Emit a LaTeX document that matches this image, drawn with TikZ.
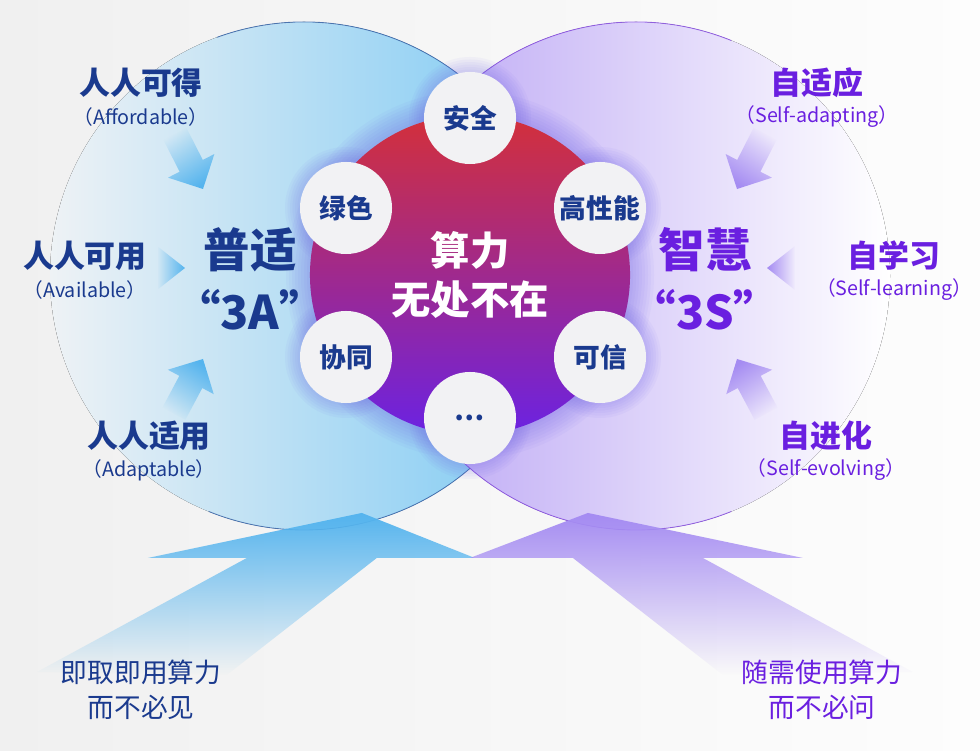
\documentclass[tikz,border=0pt]{standalone}
\usepackage{fontspec}
\setmainfont{Noto Sans CJK SC}
\usetikzlibrary{fadings,positioning}

\definecolor{navy}{HTML}{1A3A8E}
\definecolor{violettext}{HTML}{6A1FE0}
\definecolor{bgleft}{HTML}{F0F0F0}
\definecolor{bgright}{HTML}{FDFDFD}
\definecolor{skyleft}{HTML}{EEF2F5}
\definecolor{skyright}{HTML}{7CC9F3}
\definecolor{lilacleft}{HTML}{B9A3F4}
\definecolor{skyarrow}{HTML}{55B4EE}
\definecolor{lilacarrow}{HTML}{A58CF2}
\definecolor{coreRed}{HTML}{D3303A}
\definecolor{coreMag}{HTML}{B02A8E}
\definecolor{corePurple}{HTML}{6B22E2}
\definecolor{bubblefill}{HTML}{F2F2F4}
\definecolor{halo}{HTML}{6F63E8}

\tikzfading[name=tailfade, left color=transparent!100, middle color=transparent!35, right color=transparent!0]
\tikzfading[name=fadedown, top color=transparent!0, middle color=transparent!25, bottom color=transparent!100]

\begin{document}
\begin{tikzpicture}[x=0.025cm, y=0.025cm, node distance=0.85cm]
    \tikzstyle{title} = [font=\bfseries\fontsize{22}{26}\selectfont, inner sep=0pt]
    \tikzstyle{subtitle} = [font=\fontsize{14}{16}\selectfont, inner sep=0pt]
    \tikzstyle{big} = [font=\bfseries\fontsize{33}{40}\selectfont, inner sep=0pt]
    \tikzstyle{bubble} = [circle, fill=bubblefill, minimum size=2.3cm, inner sep=0pt,
	text=navy, font=\bfseries\fontsize{19}{22}\selectfont]
    \tikzstyle{motto} = [font=\fontsize{19}{24.8}\selectfont, align=center, inner sep=0pt]

    \useasboundingbox (0,0) rectangle (980,750);
    \shade[left color=bgleft, right color=bgright] (0,0) rectangle (980,750);

    \coordinate (lc) at (304,474);
    \coordinate (rc) at (636,474);
    \coordinate (cc) at (470,475);

    \fill[left color=skyleft, right color=skyright] (lc) circle (254);
    \draw[navy!70!skyright, line width=0.6pt, opacity=0.8] (lc) ++(110:254) arc (110:-112:254);
    \fill[left color=lilacleft, right color=white] (rc) circle (254);
    \draw[violettext!80!white, line width=0.6pt, opacity=0.8] (rc) ++(68:254) arc (68:292:254);

    \foreach \k in {1,...,8}
        \fill[halo, opacity=0.05] (cc) circle ({160+3*\k});
    \foreach \x/\y in {470/632, 346/542, 600/542, 346/393, 600/393, 470/332}
        \foreach \k in {1,...,6}
            \fill[halo, opacity=0.05] (\x,\y) circle ({46+2.5*\k});

    \fill[skyarrow, path fading=fadedown] (362,237) -- (475,192) -- (377,192) -- (227,75)
        -- (37,78) -- (247,192) -- (148,192) -- cycle;
    \fill[lilacarrow, path fading=fadedown] (588,237) -- (803,192) -- (703,192) -- (913,78)
        -- (723,75) -- (573,192) -- (470,192) -- cycle;

    \foreach \x/\y/\a/\c in {203/561/-63/skyarrow, 203/391/62/skyarrow,
                              737/561/243/lilacarrow, 737/391/118/lilacarrow}
        \fill[\c, path fading=tailfade, fading angle=\a, shift={(\x,\y)}, rotate=\a]
            (0,0) -- (-26,26) -- (-26,13) -- (-62,13) -- (-62,-13) -- (-26,-13) -- (-26,-26) -- cycle;
    \foreach \x/\y/\a/\c in {185/482/0/skyarrow, 767/482/180/lilacarrow}
        \fill[\c, path fading=tailfade, fading angle=\a, shift={(\x,\y)}, rotate=\a]
            (0,0) -- (-28,22) -- (-28,-22) -- cycle;

    \path
        node[circle, minimum size=8cm, inner sep=0pt, top color=coreRed, middle color=coreMag,
             bottom color=corePurple, text=white, align=center,
             font=\bfseries\fontsize{28}{35.5}\selectfont] (core) at (cc) {算力\\无处不在}
        node[bubble] (safe) at (470,632) {安全}
        node[bubble] (green) at (346,542) {绿色}
        node[bubble] (perf) at (600,542) {高性能}
        node[bubble] (coop) at (346,393) {协同}
        node[bubble] (trust) at (600,393) {可信}
        node[bubble] (more) at (470,332) {…}
    ;

    \path
        node[big, text=navy] (puti) at (250,500) {普适}
        node[big, text=navy, below of=puti, node distance=1.5cm] (threeA) {“3A”}
        node[big, text=violettext] (zhihui) at (705,500) {智慧}
        node[big, text=violettext, below of=zhihui, node distance=1.5cm] (threeS) {“3S”}

        node[title, text=navy] (afford) at (141,667) {人人可得}
        node[subtitle, text=navy, below of=afford] (affordEn) {（Affordable）}
        node[title, text=navy] (avail) at (85,494) {人人可用}
        node[subtitle, text=navy, below of=avail] (availEn) {（Available）}
        node[title, text=navy] (adapt) at (149,314) {人人适用}
        node[subtitle, text=navy, below of=adapt] (adaptEn) {（Adaptable）}

        node[title, text=violettext] (selfadapt) at (817,667) {自适应}
        node[subtitle, text=violettext, below of=selfadapt] (selfadaptEn) {（Self-adapting）}
        node[title, text=violettext] (selflearn) at (894,494) {自学习}
        node[subtitle, text=violettext, below of=selflearn] (selflearnEn) {（Self-learning）}
        node[title, text=violettext] (selfevolve) at (826,314) {自进化}
        node[subtitle, text=violettext, below of=selfevolve] (selfevolveEn) {（Self-evolving）}

        node[motto, text=navy] (instant) at (141,60) {即取即用算力\\而不必见}
        node[motto, text=violettext] (ondemand) at (822,60) {随需使用算力\\而不必问}
    ;
\end{tikzpicture}
\end{document}
